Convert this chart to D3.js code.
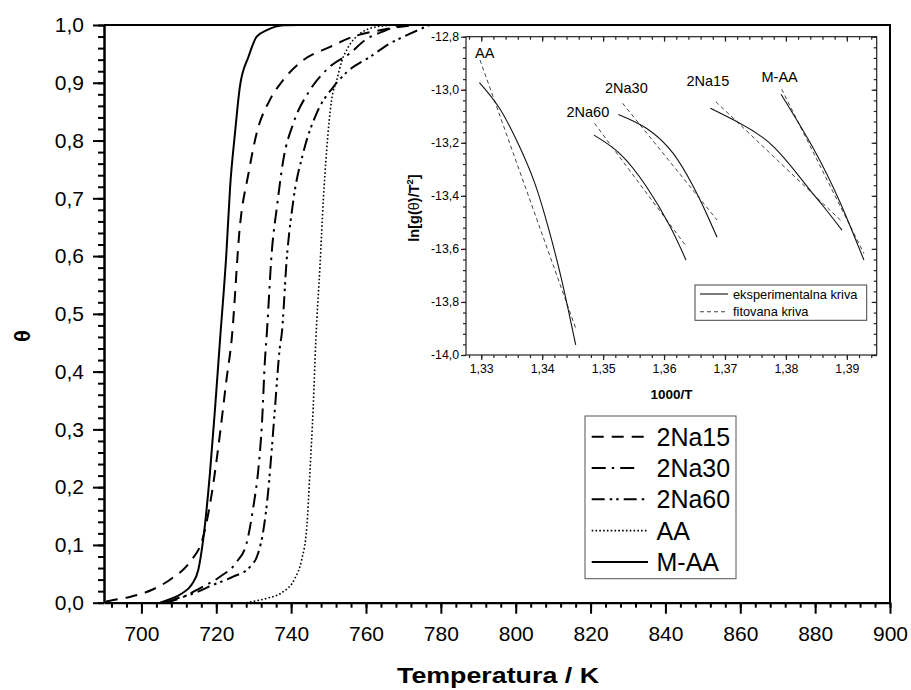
<!DOCTYPE html>
<html>
<head>
<meta charset="utf-8">
<script src="https://cdn.jsdelivr.net/npm/d3@7"></script>
<style>
  body { margin: 0; background: #fff; }
  text { font-family: "Liberation Sans", Arial, sans-serif; fill: #000; }
</style>
</head>
<body>
<svg id="chart" width="911" height="690"></svg>
<script>
// ---- conversion curves: temperature (K) vs. degree of conversion θ ----
const seriesNames = ["2Na15", "2Na30", "2Na60", "AA", "M-AA"];

const tempNa15  = [690.5, 691.6, 696.9, 702.7, 708.1, 713.0, 716.5, 718.8, 721.0, 722.7, 724.1, 726.3, 728.6, 730.8, 734.3, 737.9, 743.2, 750.4, 756.6, 763.0, 768.0, 774.0];
const thetaNa15 = [0.002, 0.0035, 0.010, 0.022, 0.042, 0.071, 0.114, 0.189, 0.293, 0.385, 0.455, 0.651, 0.743, 0.813, 0.870, 0.905, 0.939, 0.962, 0.980, 0.990, 0.996, 1.0];

const tempNa30  = [706.0, 710.3, 715.6, 721.0, 725.5, 728.1, 729.9, 731.3, 732.2, 733.0, 733.5, 734.8, 736.2, 737.9, 740.6, 745.0, 750.4, 755.7, 760.0, 765.0, 769.0];
const thetaNa30 = [0.0, 0.0076, 0.025, 0.045, 0.071, 0.103, 0.166, 0.235, 0.310, 0.420, 0.466, 0.605, 0.685, 0.766, 0.830, 0.887, 0.928, 0.951, 0.975, 0.990, 1.0];

const tempNa60  = [707.0, 708.5, 713.9, 719.2, 724.5, 729.0, 731.2, 732.6, 733.9, 734.8, 735.7, 737.0, 737.5, 738.8, 740.6, 743.2, 746.8, 751.3, 754.8, 761.1, 766.4, 771.8, 777.0];
const thetaNa60 = [0.0, 0.005, 0.016, 0.031, 0.045, 0.062, 0.086, 0.126, 0.195, 0.264, 0.339, 0.443, 0.466, 0.593, 0.697, 0.778, 0.847, 0.893, 0.918, 0.945, 0.968, 0.985, 1.0];

const tempAA  = [728.0, 730.5, 733.5, 737.9, 741.0, 742.8, 744.2, 745.0, 745.9, 746.6, 747.7, 748.6, 749.5, 750.8, 752.2, 753.5, 755.3, 758.4, 762.9, 768.0];
const thetaAA = [0.0, 0.003, 0.0076, 0.019, 0.042, 0.074, 0.132, 0.224, 0.339, 0.455, 0.582, 0.697, 0.784, 0.870, 0.905, 0.937, 0.962, 0.985, 0.997, 1.0];

const tempMAA  = [705.0, 707.6, 710.8, 713.4, 715.2, 716.5, 718.3, 719.7, 721.0, 722.7, 723.7, 725.0, 726.3, 728.6, 730.8, 733.5, 737.9, 742.0];
const thetaMAA = [0.0, 0.006, 0.016, 0.031, 0.057, 0.109, 0.224, 0.339, 0.455, 0.605, 0.720, 0.813, 0.893, 0.945, 0.980, 0.991, 0.9995, 1.0];

const tempTicks  = [700, 720, 740, 760, 780, 800, 820, 840, 860, 880, 900];
const thetaTicks = [0.0, 0.1, 0.2, 0.3, 0.4, 0.5, 0.6, 0.7, 0.8, 0.9, 1.0];

// ---- inset: ln[g(θ)/T²] vs 1000/T, experimental and fitted ----
const insetLabels = ["AA", "2Na60", "2Na30", "2Na15", "M-AA"];

const expInvT_AA   = [1.3297, 1.3330, 1.3363, 1.3390, 1.3412, 1.3432, 1.3455];
const expLn_AA     = [-12.973, -13.070, -13.215, -13.366, -13.536, -13.717, -13.962];
const expInvT_Na60 = [1.3485, 1.3527, 1.3571, 1.3610, 1.3636];
const expLn_Na60   = [-13.171, -13.240, -13.365, -13.516, -13.642];
const expInvT_Na30 = [1.3525, 1.3571, 1.3615, 1.3648, 1.3667, 1.3687];
const expLn_Na30   = [-13.093, -13.145, -13.240, -13.365, -13.453, -13.556];
const expInvT_Na15 = [1.3676, 1.3725, 1.3780, 1.3835, 1.3862, 1.3892];
const expLn_Na15   = [-13.070, -13.127, -13.215, -13.365, -13.441, -13.529];
const expInvT_MAA  = [1.3792, 1.3846, 1.3889, 1.3928];
const expLn_MAA    = [-13.017, -13.225, -13.425, -13.642];

const fitInvT_AA   = [1.3298, 1.3455];
const fitLn_AA     = [-12.888, -13.899];
const fitInvT_Na60 = [1.3486, 1.3637];
const fitLn_Na60   = [-13.127, -13.592];
const fitInvT_Na30 = [1.3532, 1.3687];
const fitLn_Na30   = [-13.051, -13.491];
const fitInvT_Na15 = [1.3685, 1.3892];
const fitLn_Na15   = [-13.045, -13.497];
const fitInvT_MAA  = [1.3793, 1.3928];
const fitLn_MAA    = [-12.998, -13.617];

const invTTicks = [1.33, 1.34, 1.35, 1.36, 1.37, 1.38, 1.39];
const lnTicks   = [-14.0, -13.8, -13.6, -13.4, -13.2, -13.0, -12.8];

// ---------------------------------------------------------------
const zip = (a, b) => a.map((v, i) => [v, b[i]]);
const loc = d3.formatLocale({ decimal: ",", thousands: ".", grouping: [3], currency: ["", ""], minus: "-" });
const f1 = loc.format(".1f"), f2 = loc.format(".2f");
const FONT = "'Liberation Sans', Arial, sans-serif";

const svg = d3.select("#chart");

// main scales
const x = d3.scaleLinear().domain([690, 900]).range([104, 890]);
const y = d3.scaleLinear().domain([0, 1]).range([602.7, 25]);

// frame (top and right)
svg.append("path")
  .attr("d", `M${x(690)},${y(1)}H${x(900)}V${y(0)}`)
  .attr("fill", "none").attr("stroke", "#000").attr("stroke-width", 2);

// curves
const mainLine = d3.line().x(d => x(d[0])).y(d => y(d[1])).curve(d3.curveMonotoneX);
const styles = {
  "2Na15": { dash: "12,8", w: 2 },
  "2Na30": { dash: "14,6,2.5,6", w: 2 },
  "2Na60": { dash: "13,5,2.5,4,2.5,5", w: 2 },
  "AA":    { dash: "1.6,2.2", w: 1.6 },
  "M-AA":  { dash: null, w: 2 }
};
const mainData = {
  "2Na15": zip(tempNa15, thetaNa15),
  "2Na30": zip(tempNa30, thetaNa30),
  "2Na60": zip(tempNa60, thetaNa60),
  "AA":    zip(tempAA, thetaAA),
  "M-AA":  zip(tempMAA, thetaMAA)
};
seriesNames.forEach(name => {
  svg.append("path")
    .datum(mainData[name])
    .attr("d", mainLine)
    .attr("fill", "none")
    .attr("stroke", "#000")
    .attr("stroke-width", styles[name].w)
    .attr("stroke-dasharray", styles[name].dash);
});

// axes
function styleAxis(g, fs) {
  g.attr("font-family", FONT).attr("font-size", fs);
  g.selectAll("text").attr("fill", "#000");
  g.selectAll("line").attr("stroke", "#000");
}
const xMinor = svg.append("g").attr("transform", `translate(0,${y(0)})`)
  .call(d3.axisBottom(x).tickValues(d3.range(692, 901, 4)).tickSize(5).tickFormat(""));
xMinor.select(".domain").remove();
xMinor.selectAll("line").attr("stroke", "#000").attr("stroke-width", 2);

const xAxis = svg.append("g").attr("transform", `translate(0,${y(0)})`)
  .call(d3.axisBottom(x).tickValues(tempTicks).tickSize(11).tickSizeOuter(0).tickPadding(12).tickFormat(d3.format("d")));
styleAxis(xAxis, 21);
xAxis.select(".domain").attr("stroke", "#000").attr("stroke-width", 2.2);
xAxis.selectAll("line").attr("stroke-width", 2);

const yMinor = svg.append("g").attr("transform", `translate(${x(690)},0)`)
  .call(d3.axisLeft(y).tickValues(d3.range(0, 1.0001, 0.02)).tickSize(6).tickFormat(""));
yMinor.select(".domain").remove();
yMinor.selectAll("line").attr("stroke", "#000").attr("stroke-width", 2);

const yAxis = svg.append("g").attr("transform", `translate(${x(690)},0)`)
  .call(d3.axisLeft(y).tickValues(thetaTicks).tickSize(11).tickSizeOuter(0).tickPadding(9).tickFormat(f1));
styleAxis(yAxis, 21);
yAxis.select(".domain").attr("stroke", "#000").attr("stroke-width", 2.5);
yAxis.selectAll("line").attr("stroke-width", 2);

// axis titles
svg.append("text")
  .attr("x", 498).attr("y", 683)
  .attr("text-anchor", "middle")
  .attr("font-size", 22).attr("font-weight", "bold")
  .attr("textLength", 202).attr("lengthAdjust", "spacingAndGlyphs")
  .text("Temperatura / K");
svg.append("text")
  .attr("transform", "translate(30,336) rotate(-90)")
  .attr("text-anchor", "middle")
  .attr("font-size", 22).attr("font-weight", "bold")
  .text("θ");

// main legend
const leg = svg.append("g");
leg.append("rect")
  .attr("x", 585).attr("y", 416).attr("width", 151).attr("height", 162.7)
  .attr("fill", "#fff").attr("stroke", "#555").attr("stroke-width", 1);
seriesNames.forEach((name, i) => {
  const cy = 436.7 + i * 31.3;
  const x2 = name === "2Na15" ? 644 : (name === "2Na30" ? 640 : 648);
  leg.append("line")
    .attr("x1", 591.7).attr("x2", x2).attr("y1", cy).attr("y2", cy)
    .attr("stroke", "#000").attr("stroke-width", styles[name].w)
    .attr("stroke-dasharray", styles[name].dash);
  leg.append("text")
    .attr("x", 656.5).attr("y", cy + 9)
    .attr("font-size", 25)
    .text(name);
});

// ---------------- inset ----------------
const ix = d3.scaleLinear().domain([1.3275, 1.3949]).range([466, 876.7]);
const iy = d3.scaleLinear().domain([-14.0, -12.8]).range([355, 36.7]);
const inset = svg.append("g");

// box
inset.append("rect")
  .attr("x", ix.range()[0]).attr("y", iy.range()[1])
  .attr("width", ix.range()[1] - ix.range()[0]).attr("height", iy.range()[0] - iy.range()[1])
  .attr("fill", "none").attr("stroke", "#222").attr("stroke-width", 1.2);

const invMinor = d3.range(1.328, 1.3949, 0.002);
const lnMinor = d3.range(-14.0, -12.799, 0.04);

function insetAxis(axisFn, scale, pos, values, size, fmt, pad) {
  const g = inset.append("g").attr("transform", pos)
    .call(axisFn(scale).tickValues(values).tickSize(size).tickSizeOuter(0).tickPadding(pad || 3).tickFormat(fmt || ""));
  g.select(".domain").remove();
  g.attr("font-family", FONT).attr("font-size", 12.3);
  g.selectAll("line").attr("stroke", "#222").attr("stroke-width", 1.2);
  g.selectAll("text").attr("fill", "#222");
  return g;
}
// bottom / left: outward ticks
insetAxis(d3.axisBottom, ix, `translate(0,${iy(-14)})`, invMinor, 3);
insetAxis(d3.axisBottom, ix, `translate(0,${iy(-14)})`, invTTicks, 5, f2, 4);
insetAxis(d3.axisLeft, iy, `translate(${ix(1.3275)},0)`, lnMinor, 3);
insetAxis(d3.axisLeft, iy, `translate(${ix(1.3275)},0)`, lnTicks, 5, f1, 2);
// top / right: inward ticks
insetAxis(d3.axisBottom, ix, `translate(0,${iy(-12.8)})`, invMinor, 3);
insetAxis(d3.axisBottom, ix, `translate(0,${iy(-12.8)})`, invTTicks, 5);
insetAxis(d3.axisLeft, iy, `translate(${ix(1.3949)},0)`, lnMinor, 3);
insetAxis(d3.axisLeft, iy, `translate(${ix(1.3949)},0)`, lnTicks, 5);

// inset titles
inset.append("text")
  .attr("x", 671.5).attr("y", 399)
  .attr("text-anchor", "middle").attr("font-size", 13.5).attr("font-weight", "bold")
  .text("1000/T");
const yl = inset.append("text")
  .attr("transform", "translate(418.5,208) rotate(-90)")
  .attr("text-anchor", "middle").attr("font-size", 14.5).attr("font-weight", "bold");
yl.append("tspan").text("ln[g(");
yl.append("tspan").attr("font-weight", "normal").text("θ");
yl.append("tspan").text(")/T");
yl.append("tspan").attr("font-size", 9.5).attr("dy", -6).text("2");
yl.append("tspan").attr("dy", 6).text("]");

// inset curves
const fitLine = d3.line().x(d => ix(d[0])).y(d => iy(d[1]));
const expLine = d3.line().x(d => ix(d[0])).y(d => iy(d[1])).curve(d3.curveNatural);
const expSets = [zip(expInvT_AA, expLn_AA), zip(expInvT_Na60, expLn_Na60), zip(expInvT_Na30, expLn_Na30),
                 zip(expInvT_Na15, expLn_Na15), zip(expInvT_MAA, expLn_MAA)];
const fitSets = [zip(fitInvT_AA, fitLn_AA), zip(fitInvT_Na60, fitLn_Na60), zip(fitInvT_Na30, fitLn_Na30),
                 zip(fitInvT_Na15, fitLn_Na15), zip(fitInvT_MAA, fitLn_MAA)];
fitSets.forEach(d => {
  inset.append("path").datum(d).attr("d", fitLine)
    .attr("fill", "none").attr("stroke", "#444").attr("stroke-width", 1)
    .attr("stroke-dasharray", "4,3");
});
expSets.forEach(d => {
  inset.append("path").datum(d).attr("d", expLine)
    .attr("fill", "none").attr("stroke", "#111").attr("stroke-width", 1.1);
});

// curve labels
const labelPos = { "AA": [475, 58], "2Na60": [566.5, 117], "2Na30": [605, 93], "2Na15": [686.5, 86], "M-AA": [761.5, 82] };
insetLabels.forEach(name => {
  inset.append("text")
    .attr("x", labelPos[name][0]).attr("y", labelPos[name][1])
    .attr("font-size", 14.5).attr("fill", "#111")
    .text(name);
});

// inset legend
const il = inset.append("g");
il.append("rect")
  .attr("x", 695).attr("y", 285).attr("width", 171.7).attr("height", 35.3)
  .attr("fill", "#fff").attr("stroke", "#444").attr("stroke-width", 1);
[["eksperimentalna kriva", null, "#111"], ["fitovana kriva", "4,3", "#444"]].forEach((e, i) => {
  const cy = 294 + i * 17.7;
  il.append("line").attr("x1", 700).attr("x2", 728).attr("y1", cy).attr("y2", cy)
    .attr("stroke", e[2]).attr("stroke-width", 1.1).attr("stroke-dasharray", e[1]);
  il.append("text").attr("x", 733).attr("y", cy + 4.5)
    .attr("font-size", 12.8).attr("fill", "#111").text(e[0]);
});
</script>
</body>
</html>
